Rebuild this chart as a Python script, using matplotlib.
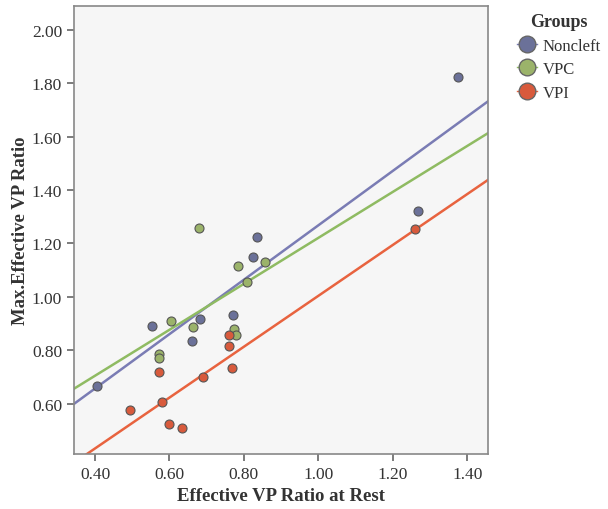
import numpy as np
import matplotlib.pyplot as plt
from matplotlib.lines import Line2D

plt.rcParams['font.family'] = ['Liberation Serif', 'DejaVu Serif']

# data
groups = ['Noncleft', 'VPC', 'VPI']

noncleft_x = [1.375, 1.269, 0.836, 0.825, 0.553, 0.681, 0.770, 0.660, 0.405]
noncleft_y = [1.822, 1.320, 1.223, 1.148, 0.890, 0.918, 0.931, 0.835, 0.666]

vpc_x = [0.679, 0.784, 0.856, 0.808, 0.605, 0.664, 0.774, 0.779, 0.571, 0.572]
vpc_y = [1.257, 1.117, 1.132, 1.057, 0.911, 0.886, 0.880, 0.856, 0.788, 0.773]

vpi_x = [1.260, 0.761, 0.759, 0.768, 0.573, 0.689, 0.579, 0.494, 0.598, 0.634]
vpi_y = [1.253, 0.856, 0.817, 0.735, 0.719, 0.702, 0.608, 0.576, 0.526, 0.510]

# fit lines (intercept, slope) as shown in the chart
fit_intercept = [0.250, 0.361, 0.052]
fit_slope = [1.018, 0.860, 0.952]

xticks = [0.40, 0.60, 0.80, 1.00, 1.20, 1.40]
yticks = [0.60, 0.80, 1.00, 1.20, 1.40, 1.60, 1.80, 2.00]

fill_colors = ['#6b7199', '#9bb36a', '#d85a3c']
line_colors = ['#7a7cb4', '#8fbb62', '#e8633f']

fig = plt.figure(figsize=(6.08, 5.10), dpi=100)
ax = fig.add_axes([0.1217, 0.1078, 0.681, 0.878])
ax.set_facecolor('#f6f6f6')

xlim = (0.3435, 1.456)
ylim = (0.412, 2.088)

xs = np.array(xlim)
for i in range(3):
    ax.plot(xs, fit_intercept[i] + fit_slope[i] * xs, color=line_colors[i], lw=1.8, zorder=2)

all_x = [noncleft_x, vpc_x, vpi_x]
all_y = [noncleft_y, vpc_y, vpi_y]
for i in range(3):
    ax.scatter(all_x[i], all_y[i], s=42, color=fill_colors[i], edgecolor='#555555',
               linewidth=0.8, zorder=3)

ax.set_xlim(*xlim)
ax.set_ylim(*ylim)
ax.set_xticks(xticks)
ax.set_xticklabels(['%.2f' % v for v in xticks])
ax.set_yticks(yticks)
ax.set_yticklabels(['%.2f' % v for v in yticks])
ax.tick_params(axis='both', direction='out', length=5, width=1.2, color='#666666',
               labelsize=12.5, labelcolor='#333333')
for s in ax.spines.values():
    s.set_color('#888888')
    s.set_linewidth(1.2)

ax.set_xlabel('Effective VP Ratio at Rest', fontsize=13.5, fontweight='bold', color='#333333', labelpad=4)
ax.set_ylabel('Max.Effective VP Ratio', fontsize=13.5, fontweight='bold', color='#333333', labelpad=2)

handles = [Line2D([], [], marker='o', markersize=12, markerfacecolor=fill_colors[i],
                  markeredgecolor='#666666', color=line_colors[i], lw=1.0) for i in range(3)]
leg = fig.legend(handles, groups, loc='upper left', bbox_to_anchor=(0.84, 0.985), frameon=False,
                 title='Groups', fontsize=12, handlelength=1.2, handletextpad=0.3,
                 labelspacing=0.45, borderaxespad=0)
leg.get_title().set_fontweight('bold')
leg.get_title().set_fontsize(13)
leg.get_title().set_color('#333333')
for t in leg.get_texts():
    t.set_color('#333333')

fig.savefig('out.png', dpi=100)
